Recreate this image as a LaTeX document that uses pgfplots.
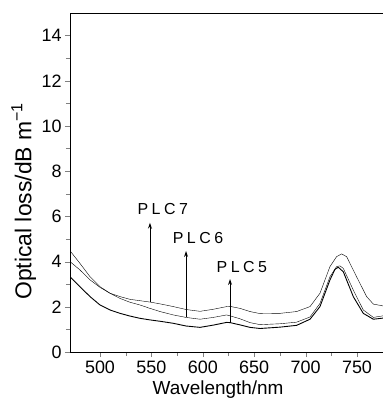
\documentclass[border=0pt]{standalone}
\usepackage{fontspec}
\setmainfont{Liberation Sans}
\newfontfamily\spaced[LetterSpace=22]{Liberation Sans}
\usepackage{pgfplots}
\pgfplotsset{compat=1.18}
\usetikzlibrary{arrows.meta}
\begin{document}
\begin{tikzpicture}
\begin{axis}[
  at={(0,0)}, anchor=south west,
  scale only axis, width=313bp, height=339bp,
  xmin=470.8, xmax=775.3, ymin=0, ymax=15,
  axis x line*=box, axis y line*=left,
  xtick={500,550,...,750}, ytick={0,2,...,14},
  minor x tick num=1, minor y tick num=1,
  xtick pos=left, ytick pos=left,
  tick align=outside,
  major tick length=5bp, minor tick length=4bp,
  /pgf/number format/assume math mode=true,
  /pgf/number format/1000 sep={},
  ticklabel style={font=\fontsize{18}{20}\selectfont},
  xlabel={Wavelength/nm},
  ylabel={Optical loss/dB m\textsuperscript{−1}},
  every axis y label/.style={at={(axis description cs:-0.148,0.445)},rotate=90,anchor=center,font=\fontsize{23}{25}\selectfont},
  every axis x label/.style={at={(axis description cs:0.473,-0.124)},anchor=base,font=\fontsize{19}{21}\selectfont},
  cycle list={{black,no markers,line width=0.9pt,smooth,tension=0.45}},
  clip=true,
]
% PLC7
\addplot coordinates {
(470.8,4.48) (480.5,3.92) (490.3,3.33) (500,2.89) (509.7,2.60) (519.5,2.45)
(529.2,2.33) (548.6,2.21) (558.4,2.13) (571.3,2.01) (583.7,1.88) (597.3,1.80)
(610.2,1.89) (623.2,2.01) (626.5,2.02) (636.2,1.93) (645.9,1.79) (655.7,1.70)
(675.1,1.71) (691.3,1.79) (704.3,2.01) (714,2.60) (723.7,3.78) (730.2,4.22)
(735,4.34) (739.9,4.22) (749.6,3.33) (759.4,2.45) (765.9,2.12) (775.3,2.04)
};
% PLC6
\addplot coordinates {
(470.8,4.00) (480.5,3.63) (490.3,3.19) (500,2.86) (509.7,2.60) (519.5,2.37)
(529.2,2.20) (538.9,2.08) (548.6,1.93) (558.4,1.79) (571.3,1.64) (583.7,1.53)
(597.3,1.45) (610.2,1.53) (623.2,1.64) (626.5,1.60) (636.2,1.47) (645.9,1.30)
(655.7,1.21) (675.1,1.25) (691.3,1.32) (704.3,1.55) (714,2.15) (723.7,3.33)
(730.2,3.78) (733.4,3.81) (736.7,3.70) (746.4,2.74) (756.1,1.86) (765.9,1.53)
(775.3,1.60)
};
% PLC5
\addplot coordinates {
(470.8,3.33) (480.5,2.89) (490.3,2.45) (500,2.08) (509.7,1.86) (519.5,1.71)
(529.2,1.59) (538.9,1.49) (548.6,1.42) (558.4,1.36) (571.3,1.27) (583.7,1.15)
(597.3,1.09) (610.2,1.19) (623.2,1.31) (626.5,1.30) (636.2,1.20) (645.9,1.09)
(655.7,1.04) (675.1,1.10) (691.3,1.18) (704.3,1.45) (714,2.01) (723.7,3.19)
(728.6,3.66) (731.8,3.75) (736.7,3.55) (746.4,2.45) (756.1,1.71) (765.9,1.45)
(775.3,1.50)
};
\draw[line width=0.9pt,-{Stealth[length=6pt,width=4pt]}] (axis cs:548.6,2.21) -- (axis cs:548.6,5.72);
\draw[line width=0.9pt,-{Stealth[length=6pt,width=4pt]}] (axis cs:583.7,1.53) -- (axis cs:583.7,4.47);
\draw[line width=0.9pt,-{Stealth[length=6pt,width=4pt]}] (axis cs:626.5,1.30) -- (axis cs:626.5,3.23);
\node[font=\spaced\fontsize{16}{18}\selectfont] at (axis cs:561,6.33) {PLC7};
\node[font=\spaced\fontsize{16}{18}\selectfont] at (axis cs:595.3,5.04) {PLC6};
\node[font=\spaced\fontsize{16}{18}\selectfont] at (axis cs:638,3.76) {PLC5};
\end{axis}
\pgfresetboundingbox
\path[use as bounding box] (-70bp,-47bp) rectangle (313bp,352bp);
\end{tikzpicture}
\end{document}
